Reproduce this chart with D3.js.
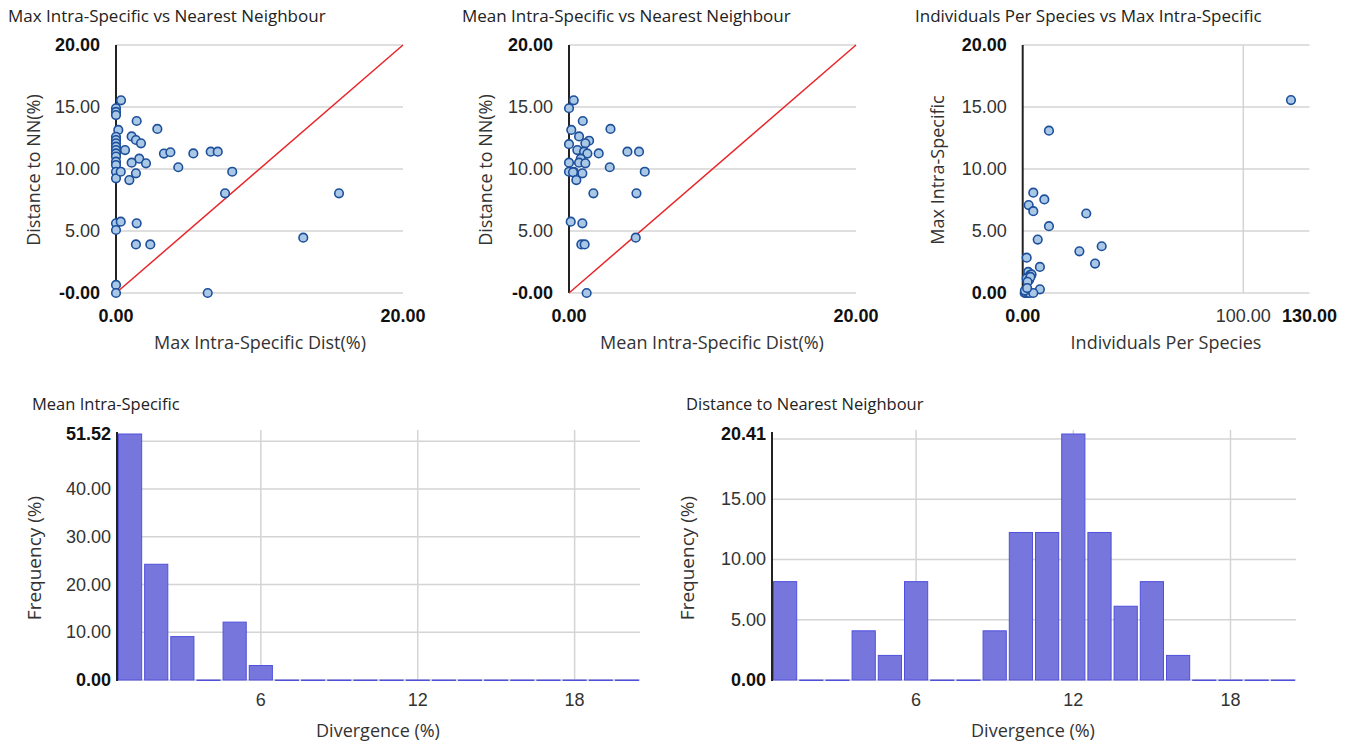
<!DOCTYPE html>
<html>
<head>
<meta charset="utf-8">
<script src="https://cdn.jsdelivr.net/npm/d3@7"></script>
<style>
  body { margin: 0; background: #fff; }
  svg { display: block; }
  .title { font-family: "Open Sans", sans-serif; fill: #222; }
  .axtitle { font-family: "Open Sans", sans-serif; fill: #333; }
  .tick-s { font-family: "Liberation Sans", Arial, sans-serif; font-size: 18px; fill: #333; }
  .tick-h { font-family: "Liberation Sans Narrow", "Arial Narrow", "Liberation Sans", sans-serif; font-size: 18px; fill: #333; }
</style>
</head>
<body>
<div id="chart"></div>
<script>
// scatter 1: max intra-specific distance vs distance to nearest neighbour
const maxIntraVsNN = [
  [0.35,15.54],[0,14.9],[0,14.6],[0,14.35],[1.44,13.87],[0.16,13.15],[2.88,13.23],
  [0,12.6],[0,12.34],[0,12.07],[0,11.8],[0,11.53],[0,11.26],[0,11.0],[0,10.59],[0,10.32],[0,9.78],[0,9.25],
  [1.09,12.63],[1.39,12.34],[1.74,12.07],[0.63,11.53],[3.34,11.24],[3.79,11.35],[5.39,11.26],[6.6,11.4],[7.09,11.4],
  [1.62,10.83],[1.09,10.51],[2.09,10.46],[4.34,10.14],[0.33,9.78],[1.39,9.65],[8.1,9.78],[0.93,9.11],[7.6,8.04],[15.54,8.04],
  [0,5.62],[0.33,5.75],[1.44,5.62],[0,5.08],[1.39,3.92],[2.39,3.92],[13.05,4.46],[0,0.65],[0,0],[6.39,0]
];
// scatter 2: mean intra-specific distance vs distance to nearest neighbour
const meanIntraVsNN = [
  [0.33,15.54],[0,14.9],[0.96,13.87],[0.16,13.15],[2.89,13.23],[0.7,12.63],[1.4,12.28],[1.14,12.07],[0,12.0],
  [0.58,11.53],[1.05,11.4],[1.28,11.24],[2.07,11.26],[4.07,11.4],[4.88,11.4],[0.82,10.83],[0.7,10.51],[1.14,10.46],
  [0,10.51],[2.84,10.14],[0,9.78],[0.33,9.78],[0.28,9.73],[0.93,9.65],[5.28,9.78],[0.51,9.11],[1.7,8.04],[4.7,8.04],
  [0.12,5.75],[0.93,5.62],[0.86,3.92],[1.09,3.92],[4.65,4.46],[1.23,0]
];
// scatter 3: individuals per species vs max intra-specific distance
const individualsVsMaxIntra = [
  [121.6,15.56],[11.9,13.09],[4.8,8.09],[9.8,7.55],[2.7,7.09],[4.8,6.6],[28.8,6.41],[11.9,5.39],[6.8,4.31],
  [35.8,3.77],[25.7,3.36],[32.8,2.37],[1.8,2.85],[7.8,2.1],[2.5,1.7],[3.3,1.45],[1.8,1.18],[4.0,1.5],[2.9,1.05],
  [3.5,1.3],[2.2,0.9],[7.8,0.3],[0.9,0],[1.5,0],[2.4,0],[3.2,0],[4.8,0],[1,0.2],[2,0.4]
];

// histograms: bins of 1% divergence, 1..20
const divergenceBins = d3.range(1, 21);
const meanIntraFreq = [51.52,24.24,9.09,0,12.12,3.03,0,0,0,0,0,0,0,0,0,0,0,0,0,0];
const nnFreq = [8.16,0,0,4.08,2.04,8.16,0,0,4.08,12.24,12.24,20.41,12.24,6.12,8.16,2.04,0,0,0,0];

const scatterYTicks = [0, 5, 10, 15, 20];
const histXTicks = [6, 12, 18];

const svg = d3.select("#chart").append("svg")
  .attr("width", 1352)
  .attr("height", 741);

svg.append("rect").attr("width", 1352).attr("height", 741).attr("fill", "#fff");

function scatter(cfg) {
  const g = svg.append("g");
  const x = d3.scaleLinear().domain([0, cfg.xMax]).range([cfg.left, cfg.right]);
  const y = d3.scaleLinear().domain([0, 20]).range([293, 45]);

  g.append("text").attr("class", "title")
    .attr("x", cfg.titleX).attr("y", 22)
    .style("font-size", "17px")
    .text(cfg.title);

  // horizontal grid
  g.selectAll(".hg").data(scatterYTicks).enter().append("line")
    .attr("x1", cfg.left).attr("x2", cfg.right)
    .attr("y1", d => y(d)).attr("y2", d => y(d))
    .attr("stroke", "#d4d4d4").attr("stroke-width", 1.5);

  // vertical grid (inner x ticks)
  g.selectAll(".vg").data(cfg.xGrid).enter().append("line")
    .attr("x1", d => x(d)).attr("x2", d => x(d))
    .attr("y1", y(20)).attr("y2", y(0))
    .attr("stroke", "#d4d4d4").attr("stroke-width", 1.5);

  // y axis line
  g.append("line")
    .attr("x1", cfg.left).attr("x2", cfg.left)
    .attr("y1", y(20)).attr("y2", y(0))
    .attr("stroke", "#222").attr("stroke-width", 2);

  g.selectAll(".yl").data(scatterYTicks).enter().append("text")
    .attr("class", "tick-s")
    .attr("x", cfg.left - 16).attr("y", d => y(d) + 6)
    .attr("text-anchor", "end")
    .style("font-weight", d => (d === 0 || d === 20) ? "bold" : "normal")
    .style("fill", d => (d === 0 || d === 20) ? "#111" : "#333")
    .text(d => d === 0 ? cfg.zeroLabel : d.toFixed(2));

  g.selectAll(".xl").data(cfg.xTicks).enter().append("text")
    .attr("class", "tick-s")
    .attr("x", d => x(d)).attr("y", 322)
    .attr("text-anchor", "middle")
    .style("font-weight", d => (d === 0 || d === cfg.xMax) ? "bold" : "normal")
    .style("fill", d => (d === 0 || d === cfg.xMax) ? "#111" : "#333")
    .text(d => d.toFixed(2));

  g.append("text").attr("class", "axtitle")
    .attr("x", cfg.xTitleX).attr("y", 349)
    .attr("text-anchor", "middle")
    .style("font-size", "18px")
    .text(cfg.xTitle);

  g.append("text").attr("class", "axtitle")
    .attr("transform", `translate(${cfg.yTitleX},170) rotate(-90)`)
    .attr("text-anchor", "middle")
    .style("font-size", "18px")
    .text(cfg.yTitle);

  if (cfg.diagonal) {
    g.append("line")
      .attr("x1", x(0)).attr("y1", y(0))
      .attr("x2", x(20)).attr("y2", y(20))
      .attr("stroke", "#e8262a").attr("stroke-width", 1.5);
  }

  g.selectAll("circle").data(cfg.data).enter().append("circle")
    .attr("cx", d => x(d[0]))
    .attr("cy", d => y(d[1]))
    .attr("r", 4.3)
    .attr("fill", "#a9c8e6")
    .attr("stroke", "#1d4f9b")
    .attr("stroke-width", 1.6);
}

scatter({
  title: "Max Intra-Specific vs Nearest Neighbour", titleX: 8,
  left: 116, right: 403, xMax: 20, xTicks: [0, 20], xGrid: [],
  zeroLabel: "-0.00", diagonal: true, data: maxIntraVsNN,
  xTitle: "Max Intra-Specific Dist(%)", xTitleX: 260,
  yTitle: "Distance to NN(%)", yTitleX: 40
});
scatter({
  title: "Mean Intra-Specific vs Nearest Neighbour", titleX: 462,
  left: 569, right: 856, xMax: 20, xTicks: [0, 20], xGrid: [],
  zeroLabel: "-0.00", diagonal: true, data: meanIntraVsNN,
  xTitle: "Mean Intra-Specific Dist(%)", xTitleX: 712,
  yTitle: "Distance to NN(%)", yTitleX: 492
});
scatter({
  title: "Individuals Per Species vs Max Intra-Specific", titleX: 915,
  left: 1022.7, right: 1309.5, xMax: 130, xTicks: [0, 100, 130], xGrid: [100],
  zeroLabel: "0.00", diagonal: false, data: individualsVsMaxIntra,
  xTitle: "Individuals Per Species", xTitleX: 1166,
  yTitle: "Max Intra-Specific", yTitleX: 944
});

function histogram(cfg) {
  const g = svg.append("g");
  const maxV = d3.max(cfg.values);
  const x = d3.scaleLinear().domain([0.5, 20.5]).range([cfg.left, cfg.right]);
  const y = d3.scaleLinear().domain([0, maxV]).range([680, 434]);
  const bw = x(1.5) - x(0.5);

  g.append("text").attr("class", "title")
    .attr("x", cfg.titleX).attr("y", 410)
    .style("font-size", "16.5px")
    .text(cfg.title);

  g.selectAll(".hg").data(cfg.grid).enter().append("line")
    .attr("x1", cfg.left).attr("x2", cfg.right)
    .attr("y1", d => y(d)).attr("y2", d => y(d))
    .attr("stroke", "#d4d4d4").attr("stroke-width", 1.5);

  g.selectAll(".vg").data(histXTicks).enter().append("line")
    .attr("x1", d => x(d)).attr("x2", d => x(d))
    .attr("y1", 430).attr("y2", 680)
    .attr("stroke", "#d4d4d4").attr("stroke-width", 1.5);

  g.selectAll("rect").data(divergenceBins).enter().append("rect")
    .attr("x", (d, i) => x(d) - bw / 2 + 1.5)
    .attr("width", bw - 3)
    .attr("y", (d, i) => y(cfg.values[i]))
    .attr("height", (d, i) => Math.max(0.5, y(0) - y(cfg.values[i])))
    .attr("fill", "#7676dd")
    .attr("stroke", "#5050dc")
    .attr("stroke-width", 1);

  g.append("line")
    .attr("x1", cfg.left).attr("x2", cfg.left)
    .attr("y1", 432).attr("y2", 681)
    .attr("stroke", "#222").attr("stroke-width", 2);

  const yLabels = cfg.labels.concat([maxV]);
  g.selectAll(".yl").data(yLabels).enter().append("text")
    .attr("class", "tick-h")
    .attr("x", cfg.left - 6).attr("y", d => y(d) + 6)
    .attr("text-anchor", "end")
    .style("font-weight", d => (d === 0 || d === maxV) ? "bold" : "normal")
    .style("fill", d => (d === 0 || d === maxV) ? "#111" : "#333")
    .text(d => d.toFixed(2));

  g.selectAll(".xl").data(histXTicks).enter().append("text")
    .attr("class", "tick-h")
    .attr("x", d => x(d)).attr("y", 706)
    .attr("text-anchor", "middle")
    .text(d => d);

  g.append("text").attr("class", "axtitle")
    .attr("x", cfg.xTitleX).attr("y", 737)
    .attr("text-anchor", "middle")
    .style("font-size", "18px")
    .text("Divergence (%)");

  g.append("text").attr("class", "axtitle")
    .attr("transform", `translate(${cfg.yTitleX},558) rotate(-90)`)
    .attr("text-anchor", "middle")
    .style("font-size", "19px")
    .text("Frequency (%)");
}

histogram({
  title: "Mean Intra-Specific", titleX: 32,
  left: 117, right: 640, values: meanIntraFreq,
  grid: [0, 10, 20, 30, 40, 50], labels: [0, 10, 20, 30, 40],
  xTitleX: 378, yTitleX: 41
});
histogram({
  title: "Distance to Nearest Neighbour", titleX: 686,
  left: 772, right: 1296, values: nnFreq,
  grid: [0, 5, 10, 15, 20], labels: [0, 5, 10, 15],
  xTitleX: 1033, yTitleX: 694
});
</script>
</body>
</html>
